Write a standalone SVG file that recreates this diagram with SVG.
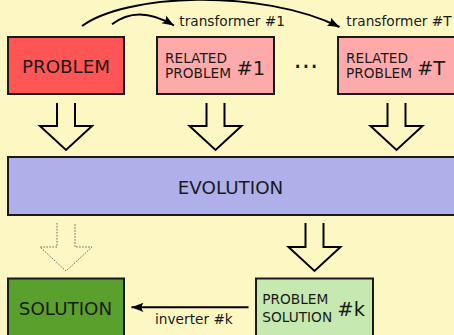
<svg xmlns="http://www.w3.org/2000/svg" width="454" height="335" viewBox="0 0 454 335">
<defs>
<marker id="ah" markerUnits="userSpaceOnUse" markerWidth="16" markerHeight="12" viewBox="-13 -6 14 12" refX="0" refY="0" orient="auto">
<path d="M0,0 L-12,-4.6 C-9.6,-1.8 -9.6,1.8 -12,4.6 Z" fill="#000"/>
</marker>
<style>
.bx{stroke:#1a1a1a;stroke-width:2}
.t{font-family:"DejaVu Sans",sans-serif;fill:#1a1a1a}
.big{font-size:18.3px}
.sm{font-size:13.7px}
.hs{font-size:19.5px}
.blk{fill:none;stroke:#000;stroke-width:2;stroke-linejoin:miter}
.dot{fill:none;stroke:#666;stroke-width:1;stroke-dasharray:1.6,1.4}
.con{fill:none;stroke:#000;stroke-width:2}
</style>
</defs>
<rect width="454" height="335" fill="#fdf8c3"/>

<g id="problem">
<rect class="bx" x="8" y="37" width="116" height="57" fill="#ff5555"/>
<text class="t big" x="66" y="73" text-anchor="middle">PROBLEM</text>
</g>
<g id="related1">
<rect class="bx" x="157" y="37" width="117" height="57" fill="#ffaaaa"/>
<text class="t sm" x="165" y="62.5">RELATED</text>
<text class="t sm" x="165" y="77.7">PROBLEM</text>
<text class="t hs" x="236.5" y="75">#1</text>
</g>
<g id="dots">
<text class="t" x="306" y="67.7" font-size="26" text-anchor="middle">...</text>
</g>
<g id="relatedT">
<rect class="bx" x="338" y="37" width="117" height="57" fill="#ffaaaa"/>
<text class="t sm" x="346" y="62.5">RELATED</text>
<text class="t sm" x="346" y="77.7">PROBLEM</text>
<text class="t hs" x="417" y="75">#T</text>
</g>
<g id="evolution">
<rect class="bx" x="8" y="157" width="448" height="58" fill="#afafe9"/>
<text class="t big" x="230.5" y="194" text-anchor="middle">EVOLUTION</text>
</g>
<g id="solution">
<rect class="bx" x="8" y="278.5" width="116" height="58" fill="#5aa02c"/>
<text class="t big" x="65.5" y="315" text-anchor="middle">SOLUTION</text>
</g>
<g id="problemsolution">
<rect class="bx" x="256" y="278.5" width="117" height="58" fill="#c6e9af"/>
<text class="t sm" x="262.3" y="304">PROBLEM</text>
<text class="t sm" x="262.3" y="322">SOLUTION</text>
<text class="t hs" x="337.3" y="315.7">#k</text>
</g>

<g id="connectors">
<path class="con" d="M82,26 C125,-6 260,-12 339.5,27" marker-end="url(#ah)"/>
<path class="con" d="M112,24.3 Q138,4 174,25.5" marker-end="url(#ah)"/>
<text class="t sm" x="179.3" y="26">transformer #1</text>
<text class="t sm" x="346.3" y="26">transformer #T</text>
<path class="blk" d="M57,103 V126 H40 L66,150 L92,126 H75 V103"/>
<path class="blk" d="M206.5,103 V126 H189.5 L215.5,150 L241.5,126 H224.5 V103"/>
<path class="blk" d="M387.5,103 V126 H370.5 L396.5,150 L422.5,126 H405.5 V103"/>
<path class="dot" d="M57,223 V247 H40 L66,271 L92,247 H75 V223"/>
<path class="blk" d="M305.5,223 V247 H288.5 L314.5,271 L340.5,247 H323.5 V223"/>
<path class="con" d="M248.5,307.3 H131.5" marker-end="url(#ah)"/>
<text class="t sm" x="155" y="324.3">inverter #k</text>
</g>
</svg>
